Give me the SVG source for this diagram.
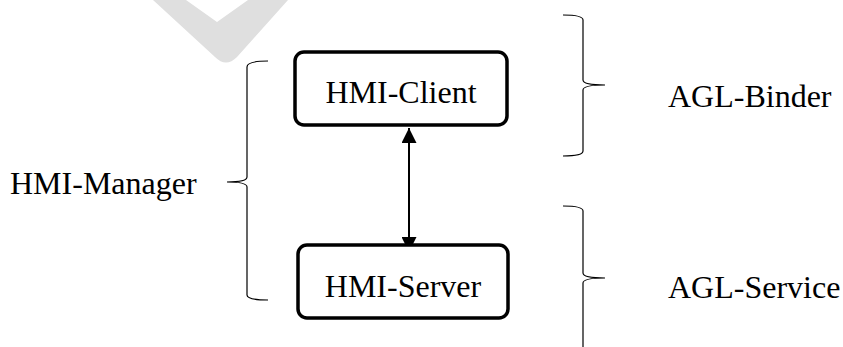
<svg xmlns="http://www.w3.org/2000/svg" width="843" height="347" viewBox="0 0 843 347">
<style>
.box{fill:#fff;stroke:#000;stroke-width:3.5}
.lbl{font-family:"Liberation Serif","Times New Roman",serif;font-size:32px;fill:#000}
.brace{fill:none;stroke:#000;stroke-width:1.2}
.conn{stroke:#000;stroke-width:2;fill:none}
</style>
<defs>
<marker id="ah" viewBox="0 0 10 10" refX="10" refY="5" markerWidth="7.5" markerHeight="7.5" orient="auto-start-reverse" markerUnits="strokeWidth">
<path d="M0,0 L10,5 L0,10 Z" fill="#000"/>
</marker>
</defs>
<rect width="843" height="347" fill="#fff"/>
<path id="watermark" d="M153,0 L215,57 Q226,68 237,57 L288,0 L248,0 L217,22 L186,0 Z" fill="#dfdfdf"/>
<g id="connectors">
<line class="conn" x1="409" y1="128" x2="409" y2="252" marker-start="url(#ah)" marker-end="url(#ah)"/>
</g>
<g id="hmi-client">
<rect class="box" x="295" y="52" width="212" height="73" rx="9"/>
<text class="lbl" x="401" y="103" text-anchor="middle">HMI-Client</text>
</g>
<g id="hmi-server">
<rect class="box" x="298" y="245" width="210" height="73" rx="9"/>
<text class="lbl" x="403" y="297" text-anchor="middle">HMI-Server</text>
</g>
<g id="hmi-manager">
<path class="brace" d="M268,61 Q247,61 247,67 L247,177 Q247,182 227,182 Q247,182 247,187 L247,295 Q247,300 268,300"/>
<text class="lbl" x="10" y="194">HMI-Manager</text>
</g>
<g id="agl-binder">
<path class="brace" d="M563,15 Q583,15 583,20 L583,80 Q583,85 605,85 Q583,85 583,90 L583,151 Q583,156 563,156"/>
<text class="lbl" x="668" y="107">AGL-Binder</text>
</g>
<g id="agl-service">
<path class="brace" d="M563,206 Q583,206 583,211 L583,273 Q583,278 605,278 Q583,278 583,283 L583,350"/>
<text class="lbl" x="668" y="298">AGL-Service</text>
</g>
</svg>
